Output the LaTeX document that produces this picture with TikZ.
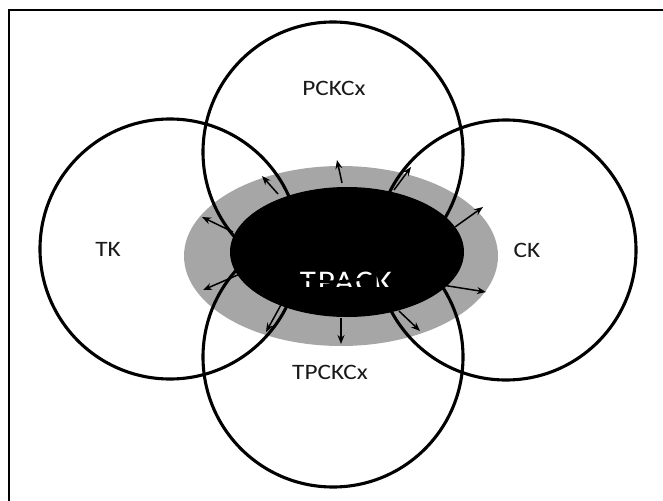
\documentclass[tikz,border=0pt]{standalone}
\usepackage{fontspec}
\setmainfont{Carlito}
\usetikzlibrary{arrows.meta,shapes.geometric}
\begin{document}
\begin{tikzpicture}[x=1pt,y=-1pt,
  ring/.style={draw=black,line width=3.1pt},
  lbl/.style={font=\fontsize{22}{24}\selectfont,text=black!90,xscale=1.15,transform shape},
  ray/.style={-{Stealth[length=9pt,width=7pt]},line width=1.5pt}]
\useasboundingbox (0,0) rectangle (663,500);
% frame
\draw[line width=2.8pt] (9,520) -- (9,10) -- (680,10);
% ellipses
\node[fill=black!35,ellipse,minimum width=314pt,minimum height=180pt,inner sep=0pt] (halo) at (341,256) {};
\node[fill=black,ellipse,minimum width=234pt,minimum height=130pt,inner sep=0pt] (core) at (347,252) {};
\begin{scope}
\clip (240,240) rectangle (460,286.5);
\node[anchor=base,text=white,font=\fontsize{30}{31}\selectfont\addfontfeature{LetterSpace=6},xscale=1.1,transform shape] (tpack) at (346,291) {TPACK};
\end{scope}
% arrows
\foreach \n/\sx/\sy/\ex/\ey in {
  a/278/194/262/176,
  b/233/232/202/217,
  c/342/183/337/160,
  d/394/190/411/167,
  e/455/227/483/207,
  f/442/285/486/292,
  g/399/311/420/331,
  h/341/318/341/344,
  i/282/303/266/332,
  j/240/274/203/290}{
  \coordinate (s\n) at (\sx,\sy);
  \coordinate (e\n) at (\ex,\ey);
  \draw[ray] (s\n) -- (e\n);
}
% circles
\node[ring,circle,minimum size=260pt,inner sep=0pt] (top) at (333,152) {};
\node[ring,circle,minimum size=260pt,inner sep=0pt] (left) at (170,249) {};
\node[ring,circle,minimum size=260pt,inner sep=0pt] (right) at (506,250) {};
\node[ring,circle,minimum size=260pt,inner sep=0pt] (bottom) at (333,357) {};
% labels
\node[lbl] (ltop) at (334,88) {PCKCx};
\node[lbl] (lleft) at (108,249) {TK};
\node[lbl] (lright) at (527,250) {CK};
\node[lbl] (lbottom) at (330,372) {TPCKCx};
\end{tikzpicture}
\end{document}
